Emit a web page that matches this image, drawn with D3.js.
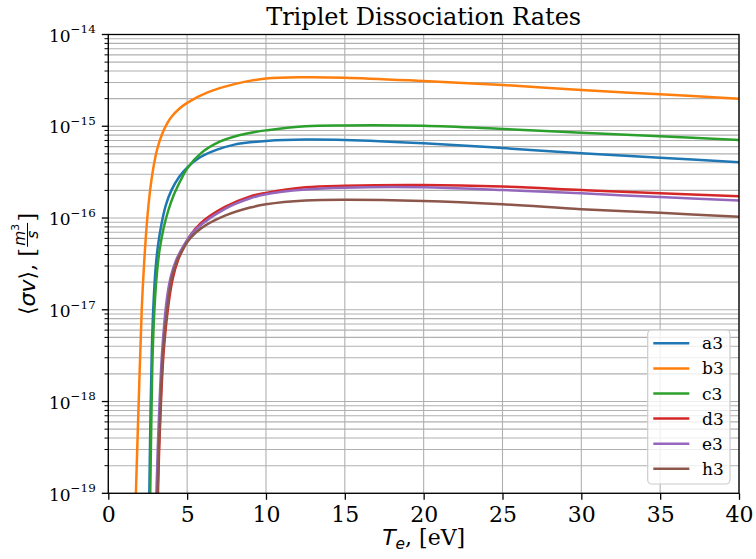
<!DOCTYPE html>
<html>
<head>
<meta charset="utf-8">
<script src="https://cdn.jsdelivr.net/npm/d3@7"></script>
<style>
  body { margin: 0; background: #fff; }
  svg { display: block; }
</style>
</head>
<body>
<svg id="chart" width="756" height="559"></svg>
<script>
// Electron temperature (eV) and rate coefficient <sigma v> (m^3/s) for each triplet state
const T_a3 = [2.56, 2.60, 2.68, 2.76, 2.87, 3.0, 3.15, 3.38, 3.65, 4.0, 4.5, 5.0, 5.8, 6.9, 8.0, 9.0, 10, 12.5, 15, 20, 25, 30, 35, 40];
const rate_a3 = [3.98e-20, 1.0e-19, 7.94e-19, 3.63e-18, 1.20e-17, 2.82e-17, 5.01e-17, 8.71e-17, 1.38e-16, 2.00e-16, 2.82e-16, 3.55e-16, 4.57e-16, 5.56e-16, 6.31e-16, 6.68e-16, 6.92e-16, 7.16e-16, 7.08e-16, 6.52e-16, 5.79e-16, 5.07e-16, 4.55e-16, 4.05e-16];

const T_b3 = [1.70, 1.75, 1.93, 2.12, 2.27, 2.45, 2.65, 2.85, 3.1, 3.4, 3.7, 4.0, 4.5, 5.0, 6.3, 8.0, 10, 12.5, 15, 20, 25, 30, 35, 40];
const rate_b3 = [3.98e-20, 1.0e-19, 1.0e-18, 1.0e-17, 3.16e-17, 8.91e-17, 2.00e-16, 3.47e-16, 5.62e-16, 8.13e-16, 1.05e-15, 1.26e-15, 1.55e-15, 1.80e-15, 2.34e-15, 2.88e-15, 3.31e-15, 3.42e-15, 3.38e-15, 3.11e-15, 2.82e-15, 2.48e-15, 2.23e-15, 2.00e-15];

const T_c3 = [2.62, 2.66, 2.74, 2.82, 2.95, 3.1, 3.25, 3.52, 3.8, 4.15, 4.6, 5.0, 5.9, 7.1, 8.35, 9.3, 10, 12.5, 15, 20, 25, 30, 35, 40];
const rate_c3 = [3.98e-20, 1.0e-19, 7.94e-19, 3.63e-18, 1.20e-17, 2.69e-17, 4.47e-17, 7.94e-17, 1.20e-16, 1.78e-16, 2.60e-16, 3.47e-16, 5.13e-16, 6.84e-16, 8.04e-16, 8.67e-16, 9.02e-16, 1.00e-15, 1.02e-15, 1.01e-15, 9.33e-16, 8.51e-16, 7.76e-16, 7.08e-16];

const T_d3 = [3.12, 3.15, 3.32, 3.52, 3.85, 4.1, 4.42, 4.85, 5.2, 5.9, 7.4, 9.0, 10, 12.5, 15, 20, 25, 30, 35, 40];
const rate_d3 = [3.98e-20, 1.0e-19, 8.13e-19, 3.63e-18, 1.26e-17, 2.24e-17, 3.47e-17, 5.01e-17, 6.46e-17, 8.91e-17, 1.32e-16, 1.72e-16, 1.88e-16, 2.16e-16, 2.25e-16, 2.29e-16, 2.20e-16, 2.02e-16, 1.86e-16, 1.73e-16];

const T_e3 = [3.02, 3.05, 3.23, 3.42, 3.70, 3.95, 4.3, 4.75, 5.2, 5.9, 7.4, 9.0, 10, 12.5, 15, 20, 25, 30, 35, 40];
const rate_e3 = [3.98e-20, 1.0e-19, 8.13e-19, 3.63e-18, 1.26e-17, 2.24e-17, 3.47e-17, 4.90e-17, 6.46e-17, 8.51e-17, 1.26e-16, 1.64e-16, 1.82e-16, 2.04e-16, 2.14e-16, 2.16e-16, 2.02e-16, 1.86e-16, 1.69e-16, 1.55e-16];

const T_h3 = [3.09, 3.12, 3.30, 3.48, 3.80, 4.03, 4.35, 4.8, 5.2, 5.9, 7.4, 9.0, 10, 12.5, 15, 20, 25, 30, 35, 40];
const rate_h3 = [3.98e-20, 1.0e-19, 8.13e-19, 3.63e-18, 1.26e-17, 2.24e-17, 3.39e-17, 4.79e-17, 6.03e-17, 7.76e-17, 1.06e-16, 1.30e-16, 1.41e-16, 1.55e-16, 1.58e-16, 1.53e-16, 1.41e-16, 1.25e-16, 1.14e-16, 1.03e-16];

const seriesNames = ["a3", "b3", "c3", "d3", "e3", "h3"];
const seriesT = [T_a3, T_b3, T_c3, T_d3, T_e3, T_h3];
const seriesRate = [rate_a3, rate_b3, rate_c3, rate_d3, rate_e3, rate_h3];
const seriesColors = ["#1f77b4", "#ff7f0e", "#2ca02c", "#d62728", "#9467bd", "#8c564b"];

const xTicks = [0, 5, 10, 15, 20, 25, 30, 35, 40];
const yTickExponents = [-19, -18, -17, -16, -15, -14];

const titleText = "Triplet Dissociation Rates";

// ---- layout ----
const plot = { left: 108.3, right: 739, top: 34.5, bottom: 493.3 };
const SERIF = "'DejaVu Serif', serif";
const SANS = "'DejaVu Sans', sans-serif";

const x = d3.scaleLinear().domain([0, 40]).range([plot.left, plot.right]);
const y = d3.scaleLog().domain([1e-19, 1e-14]).range([plot.bottom, plot.top]);

const svg = d3.select("#chart");
svg.append("rect").attr("width", 756).attr("height", 559).attr("fill", "#fff");

svg.append("defs").append("clipPath").attr("id", "plot-clip")
  .append("rect")
  .attr("x", plot.left).attr("y", plot.top)
  .attr("width", plot.right - plot.left).attr("height", plot.bottom - plot.top);

// ---- grid (major + minor on log axis, major on linear axis) ----
const yGridVals = [];
yTickExponents.forEach((e, i) => {
  yGridVals.push(Math.pow(10, e));
  if (i < yTickExponents.length - 1) {
    for (let m = 2; m <= 9; m++) yGridVals.push(m * Math.pow(10, e));
  }
});

const grid = svg.append("g").attr("class", "grid")
  .attr("stroke", "#b0b0b0").attr("stroke-width", 1.1);
grid.selectAll("line.gy").data(yGridVals).join("line")
  .attr("class", "gy")
  .attr("x1", plot.left).attr("x2", plot.right)
  .attr("y1", d => y(d)).attr("y2", d => y(d));
grid.selectAll("line.gx").data(xTicks).join("line")
  .attr("class", "gx")
  .attr("y1", plot.top).attr("y2", plot.bottom)
  .attr("x1", d => x(d)).attr("x2", d => x(d));

// ---- curves ----
const line = d3.line()
  .x(d => x(d[0]))
  .y(d => y(d[1]))
  .curve(d3.curveCatmullRom.alpha(0.5));

const curves = svg.append("g").attr("clip-path", "url(#plot-clip)");
seriesNames.forEach((name, i) => {
  const pts = seriesT[i].map((t, k) => [t, seriesRate[i][k]]);
  curves.append("path")
    .datum(pts)
    .attr("fill", "none")
    .attr("stroke", seriesColors[i])
    .attr("stroke-width", 2.5)
    .attr("stroke-linejoin", "round")
    .attr("stroke-linecap", "square")
    .attr("d", line);
});

// ---- axes ----
const xAxis = svg.append("g")
  .attr("transform", `translate(0,${plot.bottom})`)
  .call(d3.axisBottom(x).tickValues(xTicks).tickSize(6.5).tickPadding(6).tickFormat(d3.format("d")));
xAxis.select(".domain").remove();
xAxis.selectAll(".tick line").attr("stroke", "#000").attr("stroke-width", 1.3);
xAxis.selectAll(".tick text")
  .attr("fill", "#000")
  .attr("dy", null)
  .attr("y", 29)
  .style("font-family", SERIF)
  .style("font-size", "22px");

// log axis: major ticks with 10^n labels, minor ticks unlabeled
const yAxis = svg.append("g").attr("transform", `translate(${plot.left},0)`);
yAxis.selectAll("line.minor")
  .data(yGridVals.filter(v => !yTickExponents.some(e => Math.abs(Math.log10(v) - e) < 1e-9)))
  .join("line").attr("class", "minor")
  .attr("x1", 0).attr("x2", -3.8)
  .attr("y1", d => y(d)).attr("y2", d => y(d))
  .attr("stroke", "#000").attr("stroke-width", 1);
yAxis.selectAll("line.major").data(yTickExponents).join("line").attr("class", "major")
  .attr("x1", 0).attr("x2", -6.5)
  .attr("y1", d => y(Math.pow(10, d))).attr("y2", d => y(Math.pow(10, d)))
  .attr("stroke", "#000").attr("stroke-width", 1.3);
const yLabels = yAxis.selectAll("text.ylab").data(yTickExponents).join("text")
  .attr("class", "ylab")
  .attr("x", -12.6)
  .attr("y", d => y(Math.pow(10, d)) + 7.2)
  .attr("text-anchor", "end")
  .style("font-family", SERIF)
  .style("font-size", "17px")
  .attr("fill", "#000");
yLabels.append("tspan").text("10");
yLabels.append("tspan").attr("dy", -8.4).style("font-size", "11.9px")
  .text(d => "\u2212" + Math.abs(d));

// spines
svg.append("rect")
  .attr("x", plot.left).attr("y", plot.top)
  .attr("width", plot.right - plot.left).attr("height", plot.bottom - plot.top)
  .attr("fill", "none").attr("stroke", "#000").attr("stroke-width", 1.3);

// ---- title ----
const cxPlot = (plot.left + plot.right) / 2;
svg.append("text")
  .attr("x", cxPlot).attr("y", 25)
  .attr("text-anchor", "middle")
  .style("font-family", SERIF).style("font-size", "24px")
  .text(titleText);

// ---- x label: T_e, [eV] ----
const xl = svg.append("text")
  .attr("x", cxPlot).attr("y", 545)
  .attr("text-anchor", "middle")
  .style("font-size", "22px");
xl.append("tspan").style("font-family", SANS).style("font-style", "italic").text("T");
xl.append("tspan").style("font-family", SANS).style("font-style", "italic")
  .style("font-size", "15.4px").attr("dy", 4).text("e");
xl.append("tspan").style("font-family", SERIF).attr("dy", -4).text(", [eV]");

// ---- y label: <sigma v>, [m^3/s] ----
const ylab = svg.append("g")
  .attr("transform", `translate(34.5,${(plot.top + plot.bottom) / 2}) rotate(-90)`);
const yin = ylab.append("g");
const t1 = yin.append("text").attr("x", 0).attr("y", 0).style("font-size", "22px");
t1.append("tspan").style("font-family", SANS).text("\u27E8");
t1.append("tspan").style("font-family", SANS).style("font-style", "italic").text("\u03C3v");
t1.append("tspan").style("font-family", SANS).text("\u27E9");
t1.append("tspan").style("font-family", SERIF).text(", [");
let cur = t1.node().getComputedTextLength() + 1.5;

const barY = -7;
const numT = yin.append("text").attr("y", barY - 2.5).style("font-family", SANS).style("font-size", "15.4px");
numT.append("tspan").style("font-style", "italic").text("m");
numT.append("tspan").style("font-size", "10.8px").attr("dy", -6).text("3");
const numW = numT.node().getComputedTextLength();
const denT = yin.append("text").attr("y", barY + 10.5).style("font-family", SANS)
  .style("font-size", "15.4px").style("font-style", "italic").text("s");
const denW = denT.node().getComputedTextLength();
const fw = Math.max(numW, denW) + 2;
numT.attr("x", cur + (fw - numW) / 2);
denT.attr("x", cur + (fw - denW) / 2);
yin.append("line")
  .attr("x1", cur).attr("x2", cur + fw)
  .attr("y1", barY).attr("y2", barY)
  .attr("stroke", "#000").attr("stroke-width", 1);
cur += fw + 1.5;
const t5 = yin.append("text").attr("x", cur).attr("y", 0)
  .style("font-family", SERIF).style("font-size", "22px").text("]");
cur += t5.node().getComputedTextLength();
yin.attr("transform", `translate(${-cur / 2},0)`);

// ---- legend ----
const leg = { x: 647.7, y: 330, w: 82.3, h: 154, row0: 343.3, rowStep: 25.1 };
const legend = svg.append("g");
legend.append("rect")
  .attr("x", leg.x).attr("y", leg.y).attr("width", leg.w).attr("height", leg.h)
  .attr("rx", 4).attr("ry", 4)
  .attr("fill", "#fff").attr("fill-opacity", 0.8)
  .attr("stroke", "#cccccc").attr("stroke-width", 1.2);
seriesNames.forEach((name, i) => {
  const ry = leg.row0 + i * leg.rowStep;
  legend.append("line")
    .attr("x1", 653.3).attr("x2", 689.3).attr("y1", ry).attr("y2", ry)
    .attr("stroke", seriesColors[i]).attr("stroke-width", 2.5);
  legend.append("text")
    .attr("x", 702).attr("y", ry + 6)
    .style("font-family", SERIF).style("font-size", "17px")
    .text(name);
});
</script>
</body>
</html>
